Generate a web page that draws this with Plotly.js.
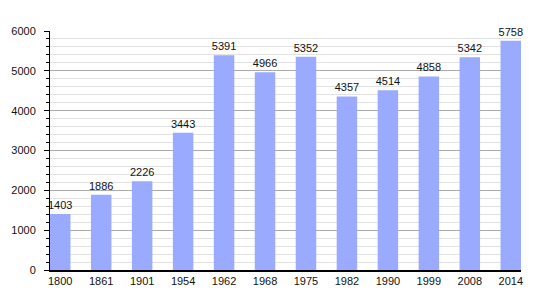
<!DOCTYPE html>
<html>
<head>
<meta charset="utf-8">
<script src="https://cdn.plot.ly/plotly-3.0.1.min.js"></script>
<style>html,body{margin:0;padding:0;background:#fff;}#chart{width:550px;height:300px;}</style>
</head>
<body>
<div id="chart"></div>
<script>
var years = ["1800","1861","1901","1954","1962","1968","1975","1982","1990","1999","2008","2014"];
var population = [1403,1886,2226,3443,5391,4966,5352,4357,4514,4858,5342,5758];

var trace = {
  type: 'bar',
  x: years,
  y: population,
  text: population.map(String),
  textposition: 'outside',
  constraintext: 'none',
  cliponaxis: false,
  textfont: {family: 'Liberation Sans, Arial, sans-serif', size: 11, color: '#111'},
  marker: {color: '#99aaff'},
  width: 0.5,
  hoverinfo: 'none'
};

var layout = {
  width: 550, height: 300,
  margin: {l: 50, r: 29, t: 31, b: 30, pad: 0},
  paper_bgcolor: '#fff', plot_bgcolor: '#fff',
  font: {family: 'Liberation Sans, Arial, sans-serif', size: 11, color: '#111'},
  showlegend: false,
  bargap: 0.5,
  xaxis: {
    type: 'category',
    range: [-0.25, 11.25],
    showline: true, linecolor: '#000', linewidth: 1.5,
    ticks: '', showgrid: false, zeroline: false,
    tickfont: {size: 11}
  },
  yaxis: {
    range: [0, 6000],
    dtick: 1000, tick0: 0,
    showline: true, linecolor: '#000', linewidth: 1,
    ticks: 'outside', ticklen: 5, tickcolor: '#000', tickwidth: 1,
    showgrid: true, gridcolor: '#aaaaaa', gridwidth: 1,
    zeroline: false,
    ticklabelstandoff: 6,
    minor: {dtick: 200, ticks: 'outside', ticklen: 3, tickcolor: '#000', showgrid: true, gridcolor: '#e2e2e2', gridwidth: 1},
    tickfont: {size: 11}
  }
};

Plotly.newPlot('chart', [trace], layout, {displayModeBar: false, staticPlot: true});
</script>
</body>
</html>
